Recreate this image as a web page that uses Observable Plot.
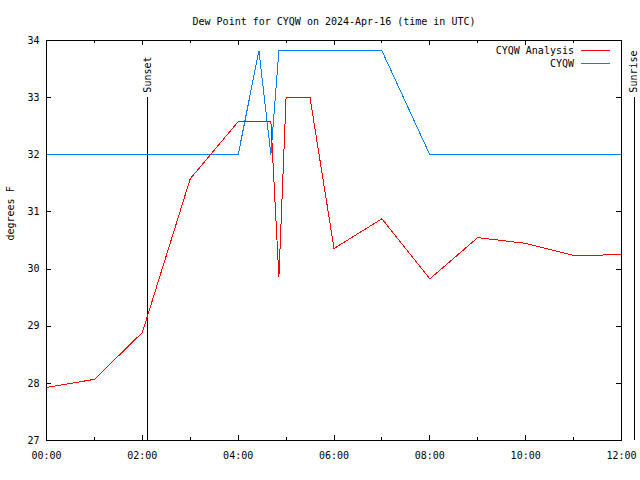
<!DOCTYPE html>
<html><head><meta charset="utf-8">
<script src="https://cdn.jsdelivr.net/npm/d3@7"></script>
<script src="https://cdn.jsdelivr.net/npm/@observablehq/plot@0.6"></script>
<style>
body{margin:0;background:#fff;}
#chart{width:640px;height:480px;}
</style></head><body><div id="chart"></div>
<script>
const titleText = "Dew Point for CYQW on 2024-Apr-16 (time in UTC)";
const yLabel = "degrees F";

const analysisName = "CYQW Analysis";
const analysisTimes = ["00:00","01:00","02:00","03:00","04:00","04:41","04:51","05:00","05:30","06:00","07:00","08:00","09:00","10:00","11:00","12:00"];
const analysisValues = [27.93,28.07,28.89,31.58,32.58,32.58,29.86,33.0,33.0,30.36,30.88,29.83,30.55,30.45,30.24,30.25];

const obsName = "CYQW";
const obsTimes = ["00:00","01:00","02:00","03:00","04:00","04:26","04:41","04:51","05:00","06:00","07:00","08:00","09:00","10:00","11:00","12:00"];
const obsValues = [32.0,32.0,32.0,32.0,32.0,33.82,32.0,33.82,33.82,33.82,33.82,32.0,32.0,32.0,32.0,32.0];

const sunEvents = [{time:"02:07", label:"Sunset"}, {time:"12:16", label:"Sunrise"}];

const xTickLabels = ["00:00","02:00","04:00","06:00","08:00","10:00","12:00"];
const xMinorTicks = ["01:00","03:00","05:00","07:00","09:00","11:00"];
const yTicks = [27,28,29,30,31,32,33,34];

const FONT = "DejaVu Sans Mono";
const W = 640, H = 480, MT = 40, MB = 40, ML = 46, MR = 19;
const FW = W - ML - MR, FH = H - MT - MB;
const RED = "#ff0000", BLUE = "#0080ff";

const hrs = t => { const [h, m] = t.split(":").map(Number); return h + m / 60; };
const analysis = analysisTimes.map((t, i) => ({x: hrs(t), y: analysisValues[i]}));
const obs = obsTimes.map((t, i) => ({x: hrs(t), y: obsValues[i]}));
const legendItems = [{name: analysisName, color: RED}, {name: obsName, color: BLUE}];

const legendMark = (index, scales, values, dims) => {
  const g = d3.create("svg:g").attr("font-family", FONT).attr("font-size", 10);
  const xr = dims.width - dims.marginRight;
  legendItems.forEach((s, i) => {
    const y = Math.round(dims.marginTop + 10 + i * 12.5) + 0.5;
    g.append("text").attr("x", xr - 47).attr("y", y).attr("dy", "0.32em")
      .attr("text-anchor", "end").attr("fill", "black").text(s.name);
    g.append("line").attr("x1", xr - 40).attr("x2", xr - 11).attr("y1", y).attr("y2", y)
      .attr("stroke", s.color).attr("stroke-width", 1).attr("shape-rendering", "crispEdges");
  });
  return g.node();
};

const plot = Plot.plot({
  width: W, height: H,
  marginTop: MT, marginBottom: MB, marginLeft: ML, marginRight: MR,
  x: {type: "linear", domain: [0, 12]},
  y: {type: "linear", domain: [27, 34]},
  style: {fontFamily: FONT, fontSize: "10px", background: "white", color: "black"},
  marks: [
    Plot.axisX(xTickLabels.map(hrs), {tickSize: 0, tickPadding: 11, tickFormat: d => xTickLabels[xTickLabels.map(hrs).indexOf(d)], label: null, fontSize: 10}),
    Plot.axisY(yTicks, {tickSize: 0, tickPadding: 7, tickFormat: d => String(d), label: null, fontSize: 10}),
    // inward ticks
    Plot.ruleX(xTickLabels, {x: hrs, insetTop: FH - 5, stroke: "black", shapeRendering: "crispEdges"}),
    Plot.ruleX(xTickLabels, {x: hrs, insetBottom: FH - 5, stroke: "black", shapeRendering: "crispEdges"}),
    Plot.ruleX(xMinorTicks, {x: hrs, insetTop: FH - 3, stroke: "black", shapeRendering: "crispEdges"}),
    Plot.ruleX(xMinorTicks, {x: hrs, insetBottom: FH - 3, stroke: "black", shapeRendering: "crispEdges"}),
    Plot.ruleY(yTicks, {y: d => d, insetRight: FW - 5, stroke: "black", shapeRendering: "crispEdges"}),
    Plot.ruleY(yTicks, {y: d => d, insetLeft: FW - 5, stroke: "black", shapeRendering: "crispEdges"}),
    // sun events
    Plot.ruleX(sunEvents, {x: d => hrs(d.time), y1: 27, y2: 33, stroke: "black", shapeRendering: "crispEdges"}),
    Plot.text(sunEvents, {x: d => hrs(d.time), y: 33, text: "label", rotate: -90, textAnchor: "start", lineAnchor: "middle", dy: -5, fill: "black"}),
    // series
    Plot.line(obs, {x: "x", y: "y", stroke: BLUE, strokeWidth: 1, shapeRendering: "crispEdges"}),
    Plot.line(analysis, {x: "x", y: "y", stroke: RED, strokeWidth: 1, shapeRendering: "crispEdges"}),
    Plot.frame({stroke: "black", shapeRendering: "crispEdges"}),
    // title and y label
    Plot.text([titleText], {frameAnchor: "top", dy: -19, text: d => d, lineAnchor: "middle", fill: "black"}),
    Plot.text([yLabel], {frameAnchor: "left", dx: -36, text: d => d, rotate: -90, lineAnchor: "middle", fill: "black"}),
    legendMark
  ]
});
document.getElementById("chart").append(plot);
</script>
</body></html>
